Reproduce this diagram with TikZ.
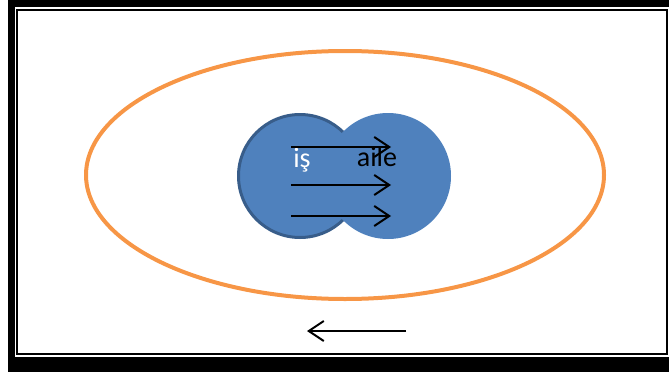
\documentclass[tikz,border=0pt]{standalone}
\usepackage{fontspec}
\setmainfont{Carlito}
\usetikzlibrary{arrows.meta}
\definecolor{ringorange}{RGB}{247,150,70}
\definecolor{discblue}{RGB}{79,129,189}
\definecolor{discedge}{RGB}{56,93,138}

\begin{document}
\begin{tikzpicture}[x=1pt,y=-1pt,
  disc/.style={circle, fill=discblue, minimum size=126pt, inner sep=0pt},
  flow/.style={line width=2pt, -{Straight Barb[length=15pt,width=20pt,line width=2pt]}},
  lbl/.style={font=\fontsize{28}{28}\selectfont, inner sep=0pt}]

\useasboundingbox (0,0) rectangle (669,372);

% Page frame
\fill[black] (8,0) rectangle (669,7);
\fill[black] (8,0) rectangle (15,372);
\fill[black] (8,357) rectangle (669,372);
\draw[line width=2pt] (17,10) rectangle (667,354);

% Outer ring
\draw[ringorange, line width=4pt] (345,175) ellipse (259pt and 124pt);

% Two discs
\node[disc, draw=discedge, line width=3pt, minimum size=123pt] (is) at (300,176) {};
\node[disc] (aile) at (388,176) {};

% Labels
\node[lbl, text=white] (islbl) at (302,160) {iş};
\node[lbl] (ailelbl) at (377,157) {aile};

% Arrows across the discs
\foreach \n/\y in {a/147,b/185,c/216}{
  \coordinate (s\n) at (291,\y);
  \coordinate (e\n) at (391,\y);
  \draw[flow] (s\n) -- (e\n);
}

% Arrow below the ring
\coordinate (bs) at (406,331);
\coordinate (be) at (307,331);
\draw[flow] (bs) -- (be);

\end{tikzpicture}
\end{document}
